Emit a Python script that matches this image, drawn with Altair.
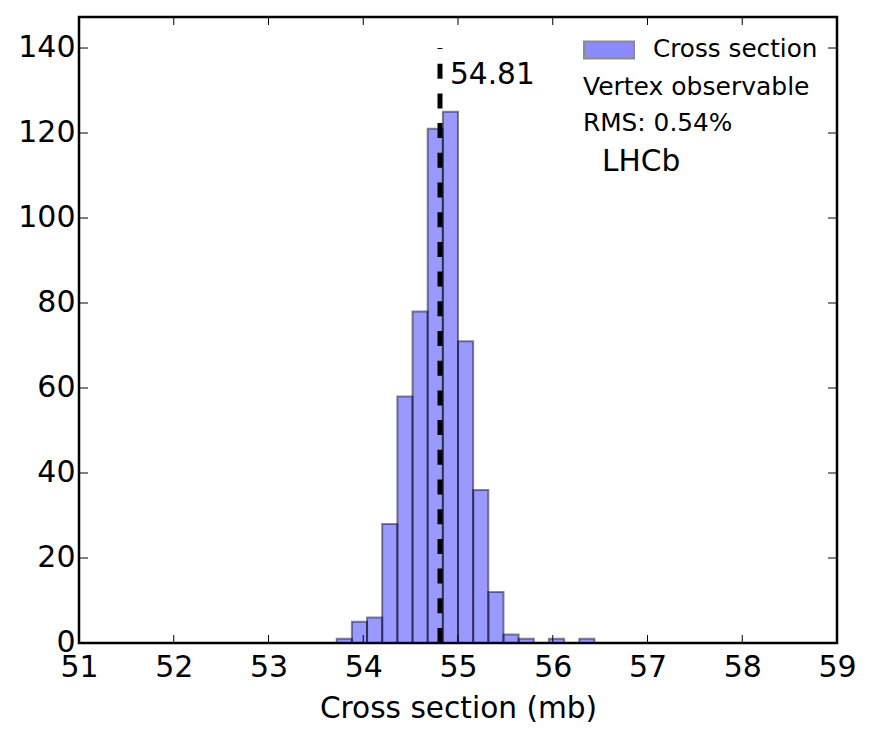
import altair as alt
import pandas as pd

bin_lo = [53.72, 53.88, 54.04, 54.20, 54.36, 54.52, 54.68, 54.84, 55.00, 55.16, 55.32, 55.48, 55.64, 55.96, 56.28]
bin_hi = [53.88, 54.04, 54.20, 54.36, 54.52, 54.68, 54.84, 55.00, 55.16, 55.32, 55.48, 55.64, 55.80, 56.12, 56.44]
counts = [1, 5, 6, 28, 58, 78, 121, 125, 71, 36, 12, 2, 1, 1, 1]
x_ticks = [51, 52, 53, 54, 55, 56, 57, 58, 59]
y_ticks = [0, 20, 40, 60, 80, 100, 120, 140]
mean_value = 54.81
series_name = "Cross section"
FONT = "DejaVu Sans"

W, H = 758, 626
xs = alt.Scale(domain=[51, 59], nice=False, zero=False)
ys = alt.Scale(domain=[0, 147.3], nice=False, zero=False)

df = pd.DataFrame({"lo": bin_lo, "hi": bin_hi, "n": counts, "base": [0] * len(counts), "s": [series_name] * len(counts)})
dfx = pd.DataFrame({"t": x_ticks})
dfy = pd.DataFrame({"t": y_ticks})

bars = alt.Chart(df).mark_bar(
    fillOpacity=0.4, stroke="black", strokeOpacity=0.45, strokeWidth=2
).encode(
    x=alt.X("lo:Q", scale=xs, axis=alt.Axis(
        values=x_ticks, ticks=False, domain=False, grid=False, labelFontSize=30, labelFont=FONT,
        labelColor="black", labelPadding=9, labelFlush=False, labelOverlap=False, format="d",
        title="Cross section (mb)", titleFont=FONT, titleFontSize=29.6, titleFontWeight="normal",
        titleColor="black", titlePadding=12)),
    x2="hi:Q",
    y=alt.Y("n:Q", scale=ys, axis=alt.Axis(
        values=y_ticks, ticks=False, domain=False, grid=False, labelFontSize=30, labelFont=FONT,
        labelColor="black", labelPadding=4, labelOverlap=False, format="d", title=None, labelOffset=-1)),
    y2="base:Q",
    fill=alt.Fill("s:N", scale=alt.Scale(domain=[series_name], range=["#0000ff"]), legend=alt.Legend(
        orient="none", legendX=504, legendY=7, title=None, padding=0,
        symbolType="M-1,-0.34H1V0.34H-1Z", symbolSize=2500, symbolStrokeColor="black",
        symbolStrokeWidth=2, symbolOpacity=0.45, labelFont=FONT, labelFontSize=24.7,
        labelColor="black", labelOffset=18, labelLimit=300)),
)

def x_ticks_layer(a, b):
    return alt.Chart(dfx).mark_rule(color="black", strokeWidth=1).encode(
        x=alt.X("t:Q", scale=xs), y=alt.value(a), y2=alt.value(b))

def y_ticks_layer(a, b):
    return alt.Chart(dfy).mark_rule(color="black", strokeWidth=1).encode(
        y=alt.Y("t:Q", scale=ys), x=alt.value(a), x2=alt.value(b))

mean_line = alt.Chart(pd.DataFrame({"x": [mean_value], "a": [0], "b": [140]})).mark_rule(
    color="black", strokeWidth=5, strokeDash=[15, 14.7]
).encode(x=alt.X("x:Q", scale=xs), y=alt.Y("a:Q", scale=ys), y2="b:Q")

def label(text, px, py, size):
    return alt.Chart(pd.DataFrame({"l": [text]})).mark_text(
        align="left", baseline="alphabetic", font=FONT, fontSize=size, color="black"
    ).encode(x=alt.value(px), y=alt.value(py), text="l:N")

chart = alt.layer(
    bars,
    x_ticks_layer(H, H - 8), x_ticks_layer(0, 8),
    y_ticks_layer(0, 9), y_ticks_layer(W, W - 9),
    mean_line,
    label("54.81", 371, 67, 29.6),
    label("Vertex observable", 504, 78, 25),
    label("RMS: 0.54%", 504, 114, 24.8),
    label("LHCb", 523, 154, 29.6),
).properties(
    width=W, height=H,
    autosize=alt.AutoSizeParams(type="none"),
    padding={"left": 71, "top": 9, "right": 20, "bottom": 90},
).configure_view(stroke="black", strokeWidth=2.5)

chart.save("out.html", embed_options={"renderer": "svg", "actions": False})
